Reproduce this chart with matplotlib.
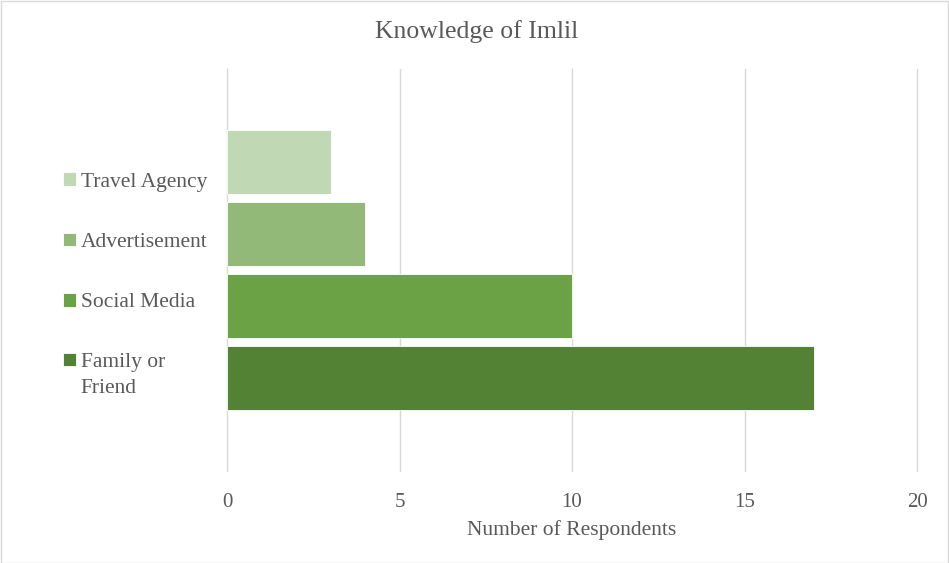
import matplotlib.pyplot as plt
from matplotlib.patches import Rectangle
from matplotlib.legend_handler import HandlerPatch

# data
sources = ['Family or\nFriend', 'Social Media', 'Advertisement', 'Travel Agency']
respondents = [17, 10, 4, 3]
colours = ['#548235', '#6AA245', '#93B978', '#C1D8B4']

plt.rcParams['font.family'] = ['Liberation Serif', 'DejaVu Serif']
txt = '#595959'

fig = plt.figure(figsize=(9.49, 5.63), dpi=100)
ax = fig.add_axes([227/949, (563-471)/563, (917-227)/949, (471-69)/563])

handles = []
for i in range(len(sources)):
    b = ax.barh(i, respondents[i], height=0.9, color=colours[i],
                edgecolor='white', linewidth=0.6, label=sources[i], zorder=3)
    handles.append(b[0])

ax.set_xlim(0, 20)
ax.set_ylim(-1.29, 4.29)
ax.set_xticks([0, 5, 10, 15, 20])
ax.set_yticks([])
ax.grid(axis='x', color='#D9D9D9', linewidth=1, zorder=0)
for gl in ax.get_xgridlines():
    gl.set_clip_on(False)
for s in ax.spines.values():
    s.set_visible(False)
ax.tick_params(axis='x', length=0, pad=16, labelsize=15, labelcolor=txt)
ax.set_xlabel('Number of Respondents', fontsize=15.5, color=txt, labelpad=6)

fig.text(477/949, 1 - 32/563, 'Knowledge of Imlil', ha='center', va='center',
         fontsize=18.5, color=txt)


# the two-line entry keeps its square level with the first line
def top_square(legend, orig_handle, xdescent, ydescent, width, height, fontsize):
    return Rectangle((-xdescent, -ydescent + 0.72 * fontsize), width, height)


leg = fig.legend(handles[::-1], sources[::-1], loc='center left',
                 bbox_to_anchor=(44/949, 1 - 285/563), frameon=False,
                 fontsize=15.5, labelcolor=txt, handlelength=0.6, handleheight=0.6,
                 handletextpad=0.2, labelspacing=1.9,
                 handler_map={handles[0]: HandlerPatch(patch_func=top_square)})
for t in leg.get_texts():
    t.set_linespacing(1.45)

fig.patches.append(Rectangle((0.5/949, 0.5/563), 1 - 1.5/949, 1 - 1.5/563,
                             transform=fig.transFigure, fill=False,
                             edgecolor='#D9D9D9', linewidth=1))

fig.savefig('out.png', dpi=100)
